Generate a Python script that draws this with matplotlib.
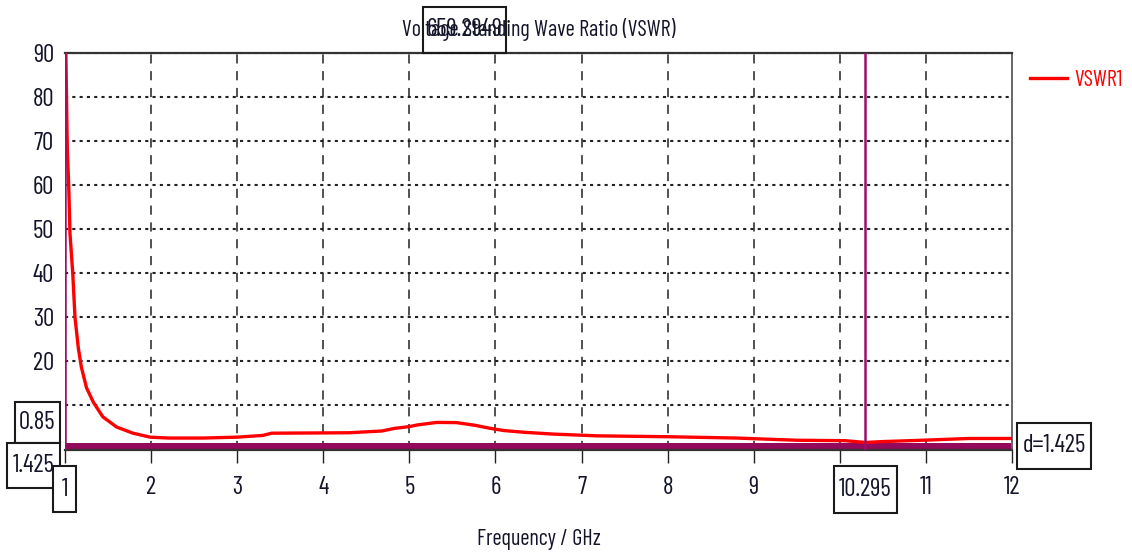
import matplotlib
matplotlib.use("Agg")
import matplotlib.pyplot as plt
from matplotlib.patches import Rectangle

# VSWR sweep (frequency in GHz)
freq_ghz = [1.0, 1.004, 1.01, 1.02, 1.027, 1.043, 1.058, 1.09, 1.116, 1.155, 1.19,
            1.25, 1.33, 1.44, 1.6, 1.79, 1.99, 2.2, 2.6, 3.0, 3.3, 3.4, 4.3, 4.68,
            4.83, 5.0, 5.1, 5.32, 5.55, 5.76, 5.94, 6.1, 6.34, 6.67, 7.18, 8.0,
            8.8, 9.5, 10.06, 10.3, 10.5, 10.96, 11.5, 12.0]
vswr = [659.2949, 160.0, 90.0, 77.0, 68.0, 60.0, 49.0, 40.0, 30.0, 23.0, 18.7,
        14.0, 10.7, 7.4, 5.1, 3.7, 2.8, 2.6, 2.6, 2.8, 3.2, 3.7, 3.8, 4.2,
        4.8, 5.2, 5.6, 6.15, 6.1, 5.5, 4.8, 4.3, 3.9, 3.5, 3.1, 2.9,
        2.6, 2.1, 2.0, 1.6, 1.8, 2.1, 2.5, 2.5]

x_ticks = list(range(1, 13))
y_ticks = list(range(0, 100, 10))
marker_x = [1.0, 10.295]
marker_y = [0.85, 1.425]
delta_y = 1.425
peak_value = 659.2949

plt.rcParams['font.family'] = ['Barlow Condensed', 'DejaVu Sans']

W, H = 1132, 553
FS = 16
FS_TICK = 18
fig = plt.figure(figsize=(W / 100, H / 100), dpi=100)
ax = fig.add_axes([65 / W, 1 - 449.5 / H, (1012 - 65) / W, (449.5 - 53) / H])

purple = '#9c0f6a'
text_col = '#14142a'

# grid: dashed verticals, dotted horizontals
for xv in x_ticks[1:-1]:
    ax.axvline(xv, color='#222222', lw=1.1, ls=(0, (6, 5)), zorder=1)
for yv in y_ticks[1:]:
    ax.axhline(yv, color='#222222', lw=1.5, ls=(0, (1.5, 2)), zorder=1)

# horizontal marker band and vertical markers
ax.axhspan(0, marker_y[1], color='#930a5c', lw=0, zorder=2)
for mx in marker_x:
    ax.axvline(mx, color=purple, lw=1.8, zorder=4)

line, = ax.plot(freq_ghz, vswr, color='#ff0000', lw=2.4, zorder=3, label='VSWR1')

ax.set_xlim(1, 12)
ax.set_ylim(0, 90)
ax.set_xticks(x_ticks)
ax.set_xticklabels(['' if v in (1, 10) else str(v) for v in x_ticks])
ax.set_yticks(y_ticks)
ax.set_yticklabels(['' if v < 20 else str(v) for v in y_ticks])
ax.tick_params(axis='x', direction='out', length=9, width=1, colors='#222222',
               labelcolor=text_col, labelsize=FS_TICK, pad=10)
ax.tick_params(axis='y', length=0, labelcolor=text_col, labelsize=FS_TICK, pad=8)

for side in ['top', 'bottom']:
    ax.spines[side].set_color('#333333')
    ax.spines[side].set_linewidth(1.6)
ax.spines['right'].set_color('#666666')
ax.spines['right'].set_linewidth(1.4)
ax.spines['left'].set_visible(False)

ax.set_title('Voltage Standing Wave Ratio (VSWR)', fontsize=FS, color=text_col, pad=12)
ax.set_xlabel('Frequency / GHz', fontsize=FS, color=text_col, labelpad=22)

# legend
fig.legend(handles=[line], labels=['VSWR1'], loc='center left',
           bbox_to_anchor=(1030 / W, 1 - 80 / H), frameon=False, fontsize=FS,
           labelcolor='#ff0000', handlelength=1.65, handletextpad=0.35,
           borderpad=0, borderaxespad=0)


def boxed(cx, cy, w, h, s, fill='white'):
    """Marker readout: text centred in a framed box, sizes in pixels."""
    fig.add_artist(Rectangle(((cx - w / 2) / W, 1 - (cy + h / 2) / H), w / W, h / H,
                             transform=fig.transFigure, fc=fill, ec='#1a1a1a',
                             lw=1.5, zorder=9))
    fig.text(cx / W, 1 - cy / H, s, ha='center', va='center', fontsize=FS_TICK,
             color=text_col, zorder=10)


boxed(464.5, 30, 83, 46, f'{peak_value:.4f}', fill='none')
boxed(37.5, 422.5, 45, 41, f'{marker_y[0]:.2f}')
boxed(33.5, 465.5, 53, 45, f'{marker_y[1]:.3f}')
boxed(64.5, 489, 23, 46, f'{marker_x[0]:.0f}')
boxed(865.5, 489.5, 63, 47, f'{marker_x[1]:.3f}')
boxed(1054, 446, 74, 46, f'd={delta_y:.3f}')

fig.savefig('out.png', dpi=100, facecolor='white')
